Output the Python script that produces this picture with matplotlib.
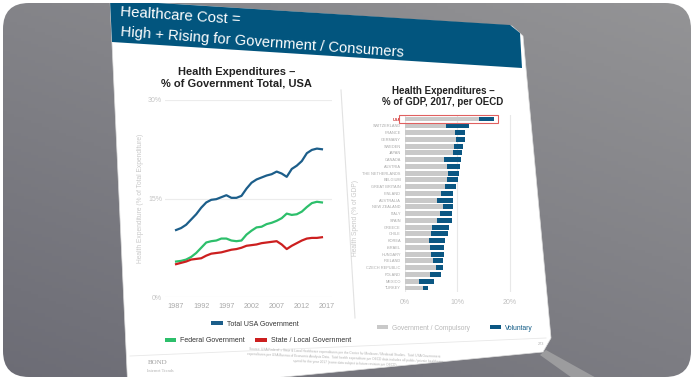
import matplotlib
matplotlib.use("Agg")
import matplotlib.pyplot as plt
import numpy as np
from matplotlib.patches import Polygon, FancyBboxPatch, Patch, Rectangle

plt.rcParams['font.family'] = ['Liberation Sans', 'DejaVu Sans']

# ---------------- data ----------------
years = list(range(1987, 2017))
total_gov = [10.2, 10.5, 11.0, 11.8, 12.6, 13.6, 14.4, 14.8, 14.9, 15.2,
             15.5, 15.1, 15.1, 15.4, 16.5, 17.4, 17.9, 18.2, 18.5, 18.7,
             19.1, 18.8, 18.3, 19.5, 20.0, 20.7, 21.9, 22.4, 22.6, 22.5]
federal_gov = [5.4, 5.5, 5.7, 6.1, 6.7, 7.5, 8.3, 8.5, 8.6, 8.9,
               8.9, 8.6, 8.5, 8.6, 9.5, 10.1, 10.6, 10.7, 11.1, 11.3,
               11.6, 12.0, 12.7, 12.5, 12.6, 13.0, 13.7, 14.3, 14.5, 14.4]
state_local_gov = [5.0, 5.2, 5.4, 5.7, 5.8, 5.9, 6.3, 6.6, 6.7, 6.8,
                   7.0, 7.2, 7.3, 7.5, 7.8, 7.9, 8.0, 8.2, 8.3, 8.4,
                   8.5, 8.0, 7.3, 7.8, 8.2, 8.6, 8.9, 9.0, 9.0, 9.1]
year_ticks = [1987, 1992, 1997, 2002, 2007, 2012, 2017]
pct_ticks_left = [0, 15, 30]

countries = ['USA', 'SWITZERLAND', 'FRANCE', 'GERMANY', 'SWEDEN', 'JAPAN',
             'CANADA', 'AUSTRIA', 'THE NETHERLANDS', 'BELGIUM', 'GREAT BRITAIN',
             'FINLAND', 'AUSTRALIA', 'NEW ZEALAND', 'ITALY', 'SPAIN', 'GREECE',
             'CHILE', 'KOREA', 'ISRAEL', 'HUNGARY', 'IRELAND', 'CZECH REPUBLIC',
             'POLAND', 'MEXICO', 'TURKEY']
gov_compulsory = [14.1, 7.9, 9.6, 9.7, 9.3, 9.2, 7.5, 8.0, 8.3, 8.0, 7.6,
                  6.8, 6.2, 7.3, 6.6, 6.2, 5.2, 5.0, 4.5, 4.8, 5.0, 5.3,
                  5.9, 4.8, 2.7, 3.5]
voluntary = [3.0, 4.3, 1.9, 1.7, 1.7, 1.7, 3.2, 2.5, 2.0, 2.2, 2.1,
             2.4, 2.9, 1.8, 2.3, 2.7, 3.3, 3.2, 3.2, 2.7, 2.4, 1.9,
             1.4, 2.0, 2.9, 0.9]
pct_ticks_right = [0, 10, 20]

W, H = 694, 380
fig = plt.figure(figsize=(W / 100, H / 100), dpi=100)
fig.patch.set_facecolor('white')

def rect(x0, y0, x1, y1):
    return [x0 / W, 1 - y1 / H, (x1 - x0) / W, (y1 - y0) / H]

# ---------------- background scene ----------------
bg = fig.add_axes([0, 0, 1, 1])
bg.set_xlim(0, W)
bg.set_ylim(H, 0)
bg.axis('off')

frame = FancyBboxPatch((3, 3), W - 6, H - 6, boxstyle="round,pad=0,rounding_size=26",
                       facecolor='none', edgecolor='none')
bg.add_patch(frame)
gx, gy = np.meshgrid(np.linspace(0, 1, 200), np.linspace(0, 1, 120))
grad = 0.6 * gy + 0.4 * (1 - gx)
cmap = matplotlib.colors.LinearSegmentedColormap.from_list('g', ['#949496', '#6c6c75'])
im = bg.imshow(grad, extent=(0, W, H, 0), cmap=cmap, aspect='auto', zorder=0)
im.set_clip_path(frame)

shadow = Polygon([(546, 350), (600, 380), (575, 380), (540, 355)],
                 closed=True, facecolor='#9c9c9e', edgecolor='none', zorder=1)
bg.add_patch(shadow)
shadow.set_clip_path(frame)

slide = Polygon([(110, 0), (512, 26), (523, 36), (551, 338), (543, 352), (128, 392)],
                closed=True, facecolor='white', edgecolor='#dcdcdc', lw=0.5, zorder=2)
bg.add_patch(slide)
slide.set_clip_path(frame)

band = Polygon([(110, 0), (510, 25), (520, 33), (522, 68), (112, 42)],
               closed=True, facecolor='#02557e', edgecolor='none', zorder=3)
bg.add_patch(band)
band.set_clip_path(frame)

bg.text(120, 12, 'Healthcare Cost =', color='white', fontsize=10.8, rotation=-3.8,
        rotation_mode='anchor', ha='left', va='center', zorder=4)
bg.text(121, 32, 'High + Rising for Government / Consumers', color='white', fontsize=10.6,
        rotation=-4.2, rotation_mode='anchor', ha='left', va='center', zorder=4)

bg.plot([341, 355], [90, 318], color='#e2e2e2', lw=0.8, zorder=4)
bg.plot([130, 546], [356, 338], color='#e8e8e8', lw=0.6, zorder=4)

bg.text(345, 353, 'Source: USA Federal + State & Local Healthcare expenditures per the Center for Medicare / Medicaid Studies.  Total USA Government',
        fontsize=2.3, color='#b0b0b0', ha='center', va='center', rotation=-2.3, zorder=4)
bg.text(345, 358, 'expenditures per USA Bureau of Economic Analysis Data.  Total health expenditure per OECD data includes all public / private healthcare',
        fontsize=2.3, color='#b0b0b0', ha='center', va='center', rotation=-2.3, zorder=4)
bg.text(345, 363, 'spend for the year 2017 (some data subject to future revision per OECD).',
        fontsize=2.3, color='#b0b0b0', ha='center', va='center', rotation=-2.3, zorder=4)
bg.text(158, 363, 'BOND', fontsize=5, color='#a0a0a0', family='Liberation Serif',
        ha='center', va='center', zorder=4)
bg.text(160, 371, 'Internet Trends', fontsize=3.2, color='#b0b0b0', family='Liberation Serif',
        ha='center', va='center', zorder=4)
bg.text(541, 344, '273', fontsize=2.8, color='#b0b0b0', ha='center', va='center', zorder=4)

# ---------------- left chart ----------------
ax1 = fig.add_axes(rect(165, 100, 332, 297))
ax1.set_facecolor('none')
ax1.plot(years, total_gov, color='#1c5e8a', lw=1.6, label='Total USA Government')
ax1.plot(years, federal_gov, color='#2dbf6b', lw=1.6, label='Federal Government')
ax1.plot(years, state_local_gov, color='#cc1f1f', lw=1.6, label='State / Local Government')
ax1.set_ylim(0, 30)
ax1.set_xlim(1984.8, 2018.0)
ax1.set_yticks(pct_ticks_left)
ax1.set_yticklabels([f'{v}%' for v in pct_ticks_left])
ax1.set_xticks(year_ticks)
ax1.tick_params(axis='y', length=0, labelsize=5, labelcolor='#c4c4c4', pad=2)
ax1.tick_params(axis='x', length=0, labelsize=5.2, labelcolor='#a9a9a9', pad=4)
ax1.grid(axis='y', color='#ececec', lw=0.8)
ax1.set_axisbelow(True)
for s in ax1.spines.values():
    s.set_visible(False)
ax1.set_ylabel('Health Expenditure (% of Total Expenditure)', fontsize=4.8, color='#c8c8c8', labelpad=3)
ax1.set_title('Health Expenditures \u2013\n% of Government Total, USA', fontsize=8, fontweight='bold',
              color='#222222', pad=10, linespacing=1.2, x=0.43)

h_tot = Patch(facecolor='#1c5e8a', label='Total USA Government')
h_fed = Patch(facecolor='#2dbf6b', label='Federal Government')
h_sl = Patch(facecolor='#cc1f1f', label='State / Local Government')
fig.legend(handles=[h_tot], loc='center', bbox_to_anchor=(255 / W, 1 - 324 / H),
           frameon=False, fontsize=5, handlelength=1.6, handleheight=0.45,
           labelcolor='#333333', handletextpad=0.6)
fig.legend(handles=[h_fed, h_sl], loc='center', bbox_to_anchor=(258 / W, 1 - 341 / H),
           frameon=False, fontsize=5, ncol=2, handlelength=1.6, handleheight=0.45,
           labelcolor='#333333', handletextpad=0.6, columnspacing=1.5)

# ---------------- right chart ----------------
ax2 = fig.add_axes(rect(405, 115, 520, 292))
ax2.set_facecolor('none')
ypos = np.arange(len(countries))
ax2.barh(ypos, gov_compulsory, height=0.72, color='#c9c9c9', label='Government / Compulsory')
ax2.barh(ypos, voluntary, left=gov_compulsory, height=0.72, color='#0b5783', label='Voluntary')
ax2.set_ylim(len(countries) - 0.4, -0.6)
ax2.set_xlim(0, 22)
ax2.set_yticks(ypos)
ax2.set_yticklabels(countries)
for lab in ax2.get_yticklabels():
    lab.set_color('#a8a8a8')
ax2.get_yticklabels()[0].set_color('#cc2020')
ax2.get_yticklabels()[0].set_fontweight('bold')
ax2.set_xticks(pct_ticks_right)
ax2.set_xticklabels([f'{v}%' for v in pct_ticks_right])
ax2.tick_params(axis='y', length=0, labelsize=2.8, pad=3)
ax2.tick_params(axis='x', length=0, labelsize=5, labelcolor='#c0c0c0', pad=5)
ax2.grid(axis='x', color='#e8e8e8', lw=0.8)
ax2.set_axisbelow(True)
for s in ax2.spines.values():
    s.set_visible(False)
usa_total = gov_compulsory[0] + voluntary[0]
ax2.add_patch(Rectangle((-1.2, -0.6), usa_total + 1.9, 1.2, fill=False,
                        edgecolor='#e06060', lw=0.8, clip_on=False))
ax2.set_ylabel('Health Spend (% of GDP)', fontsize=4.8, color='#c8c8c8', labelpad=3)
ax2.yaxis.set_label_coords(-0.40, 0.42)
ax2.set_title('Health Expenditures \u2013\n% of GDP, 2017, per OECD', fontsize=7, fontweight='bold',
              color='#222222', pad=7, linespacing=1.2, x=0.33)

h_gc = Patch(facecolor='#c9c9c9', label='Government / Compulsory')
h_vo = Patch(facecolor='#0b5783', label='Voluntary')
leg3 = fig.legend(handles=[h_gc, h_vo], loc='center', bbox_to_anchor=(455 / W, 1 - 328 / H),
                  frameon=False, fontsize=4.8, ncol=2, handlelength=1.6, handleheight=0.45,
                  handletextpad=0.6, columnspacing=3.0)
for t, c in zip(leg3.get_texts(), ['#b8b8b8', '#0b5783']):
    t.set_color(c)

fig.savefig('out.png', dpi=100)
